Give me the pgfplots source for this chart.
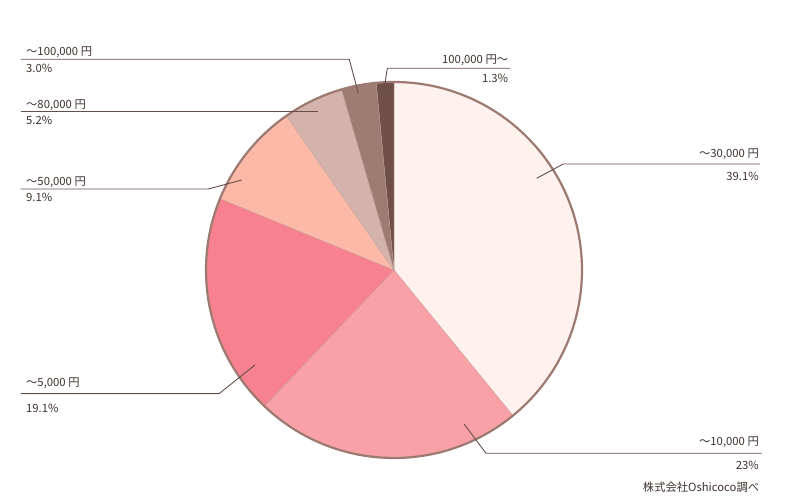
\documentclass[border=0pt]{standalone}
\usepackage{fontspec}
\setmainfont{Noto Sans CJK JP}
\usepackage{pgfplots}
\pgfplotsset{compat=1.18}
\usepackage{pgfplotstable}

\definecolor{txt}{HTML}{3E312D}
\definecolor{lead}{HTML}{654F4A}
\definecolor{outl}{HTML}{9C7A72}
\definecolor{sep}{HTML}{BFA49C}
\definecolor{pie0}{HTML}{FFF2EE}
\definecolor{pie1}{HTML}{F9A1A7}
\definecolor{pie2}{HTML}{F8818F}
\definecolor{pie3}{HTML}{FDB9A8}
\definecolor{pie4}{HTML}{D3B3AB}
\definecolor{pie5}{HTML}{9D7C72}
\definecolor{pie6}{HTML}{6E5048}

% share of each price band (%), clockwise from 12 o'clock
\pgfplotstableread{
idx pct
0 39.1
1 23
2 19.1
3 9.1
4 5.2
5 3.0
6 1.3
}\piedata

\gdef\total{100}
\gdef\cum{0}
\pgfplotstableforeachcolumnelement{pct}\of\piedata\as\v{%
  \pgfmathsetmacro\sa{90-(\cum/\total)*360}%
  \pgfmathsetmacro\tmp{\cum+\v}\xdef\cum{\tmp}%
  \pgfmathsetmacro\ea{90-(\cum/\total)*360}%
  \expandafter\xdef\csname sa\pgfplotstablerow\endcsname{\sa}%
  \expandafter\xdef\csname ea\pgfplotstablerow\endcsname{\ea}}
% last slice closes the circle
\expandafter\xdef\csname ea6\endcsname{-270}

\begin{document}
\begin{tikzpicture}
\begin{axis}[scale only axis, width=788pt, height=500pt,
  xmin=0, xmax=788, ymin=0, ymax=500, hide axis, clip=false]
\path (axis cs:0,0) rectangle (axis cs:788,500);
\pgfplotsinvokeforeach{0,...,6}{
  \fill[pie#1, draw=sep, line width=0.3pt] (axis cs:394,230) -- ++(\csname sa#1\endcsname:188pt)
    arc[start angle=\csname sa#1\endcsname, end angle=\csname ea#1\endcsname, radius=188pt] -- cycle;
}
\draw[outl, line width=2.2pt] (axis cs:394,230) circle[radius=188pt];

\tikzset{lbl/.style={inner sep=0pt, text=txt, font=\fontsize{11.3}{13}\selectfont},
         ld/.style={lead, line width=0.9pt}}
% left labels
\draw[ld] (axis cs:20.7,440.7) -- (axis cs:349.3,440.7) -- (axis cs:358.3,406.7);
\node[lbl, anchor=base west] at (axis cs:26,444) {〜100,000 円};
\node[lbl, anchor=base west] at (axis cs:26,427.3) {3.0\%};
\draw[ld] (axis cs:20.7,389) -- (axis cs:318.3,389);
\node[lbl, anchor=base west] at (axis cs:26,391.7) {〜80,000 円};
\node[lbl, anchor=base west] at (axis cs:26,375) {5.2\%};
\draw[ld] (axis cs:20.7,311) -- (axis cs:208.3,311) -- (axis cs:241.7,320);
\node[lbl, anchor=base west] at (axis cs:26,314.7) {〜50,000 円};
\node[lbl, anchor=base west] at (axis cs:26,298.3) {9.1\%};
\draw[ld] (axis cs:20.7,106.3) -- (axis cs:219,106.3) -- (axis cs:255,135);
\node[lbl, anchor=base west] at (axis cs:26,113.3) {〜5,000 円};
\node[lbl, anchor=base west] at (axis cs:26,87.3) {19.1\%};
% right labels
\draw[ld] (axis cs:510,431.7) -- (axis cs:387.3,431.7) -- (axis cs:384,410);
\node[lbl, anchor=base east] at (axis cs:508.3,436.7) {100,000 円〜};
\node[lbl, anchor=base east] at (axis cs:508.3,417.3) {1.3\%};
\draw[ld] (axis cs:760,336) -- (axis cs:563.3,336) -- (axis cs:536.7,321.7);
\node[lbl, anchor=base east] at (axis cs:759,342.7) {〜30,000 円};
\node[lbl, anchor=base east] at (axis cs:759,319.3) {39.1\%};
\draw[ld] (axis cs:761.7,46.7) -- (axis cs:486,46.7) -- (axis cs:464,76);
\node[lbl, anchor=base east] at (axis cs:759,54) {〜10,000 円};
\node[lbl, anchor=base east] at (axis cs:759,30.7) {23\%};
\node[lbl, anchor=base east] at (axis cs:759.3,8.5) {株式会社Oshicoco調べ};
\end{axis}
\end{tikzpicture}
\end{document}
